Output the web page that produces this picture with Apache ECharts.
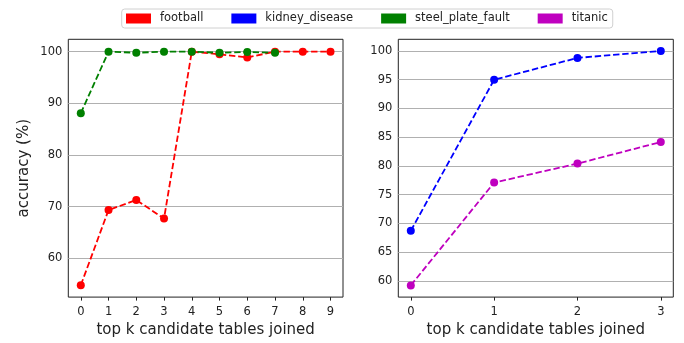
<!DOCTYPE html>
<html>
<head>
<meta charset="utf-8">
<script src="https://cdn.jsdelivr.net/npm/echarts@6/dist/echarts.min.js"></script>
<style>html,body{margin:0;padding:0;background:#fff}#c{width:684px;height:343px}</style>
</head>
<body>
<div id="c"></div>
<script>
// ---- data ----
const xTicksLeft = [0, 1, 2, 3, 4, 5, 6, 7, 8, 9];
const xTicksRight = [0, 1, 2, 3];
const yTicksLeft = [60, 70, 80, 90, 100];
const yTicksRight = [60, 65, 70, 75, 80, 85, 90, 95, 100];
const footballX = [0, 1, 2, 3, 4, 5, 6, 7, 8, 9];
const football = [54.8, 69.35, 71.3, 67.7, 100.0, 99.5, 98.9, 100.0, 100.0, 100.0];
const steelX = [0, 1, 2, 3, 4, 5, 6, 7];
const steel = [88.1, 100.0, 99.8, 100.0, 100.0, 99.8, 99.95, 99.8];
const kidneyX = [0, 1, 2, 3];
const kidney = [68.7, 95.0, 98.8, 100.0];
const titanicX = [0, 1, 2, 3];
const titanic = [59.2, 77.1, 80.4, 84.15];
const seriesNames = ['football', 'kidney_disease', 'steel_plate_fault', 'titanic'];
const xTitle = 'top k candidate tables joined';
const yTitle = 'accuracy (%)';

const FONT = 'DejaVu Sans';
const C = { football: '#ff0000', kidney_disease: '#0000ff', steel_plate_fault: '#008000', titanic: '#bf00bf' };

function pairs(xs, ys) { return xs.map((x, i) => [x, ys[i]]); }

const tickLabel = { fontFamily: FONT, fontSize: 11.5, color: '#222' };

function xAxis(gridIndex, min, max, ticks) {
  return {
    type: 'value', gridIndex, min, max,
    axisLine: { show: false },
    axisTick: { show: true, length: 3.5, customValues: ticks, lineStyle: { color: '#222', width: 1 } },
    axisLabel: Object.assign({ customValues: ticks, margin: 9 }, tickLabel),
    splitLine: { show: false },
    name: xTitle, nameLocation: 'middle', nameGap: 23,
    nameTextStyle: { fontFamily: FONT, fontSize: 15, color: '#222' }
  };
}
function yAxis(gridIndex, min, max, ticks, withName) {
  const a = {
    type: 'value', gridIndex, min, max,
    axisLine: { show: false },
    axisTick: { show: true, length: 3.5, customValues: ticks, lineStyle: { color: '#222', width: 1 } },
    axisLabel: Object.assign({ customValues: ticks, margin: 6 }, tickLabel),
    splitLine: { show: false }
  };
  if (withName) {
    a.name = yTitle; a.nameLocation = 'middle'; a.nameGap = 37;
    a.nameTextStyle = { fontFamily: FONT, fontSize: 15, color: '#222' };
  }
  return a;
}
function gridLines(ticks) {
  return {
    silent: true, symbol: 'none', z: 1,
    label: { show: false },
    lineStyle: { type: 'solid', color: '#b0b0b0', width: 1 },
    emphasis: { disabled: true },
    data: ticks.map(v => ({ yAxis: v }))
  };
}
function lineSeries(name, xs, ys, idx, ticks) {
  const s = {
    name, type: 'line', xAxisIndex: idx, yAxisIndex: idx,
    data: pairs(xs, ys),
    symbol: 'circle', symbolSize: 8, showSymbol: true,
    itemStyle: { color: C[name] },
    lineStyle: { color: C[name], width: 1.8, type: [6.4, 2.8] },
    animation: false, z: 3
  };
  if (ticks) s.markLine = gridLines(ticks);
  return s;
}

const chart = echarts.init(document.getElementById('c'), null, { renderer: 'canvas' });
chart.setOption({
  animation: false,
  legend: {
    data: seriesNames.map(n => ({ name: n, icon: 'rect', itemStyle: { color: C[n] } })),
    left: 121.7, top: 9,
    itemWidth: 25, itemHeight: 10, itemGap: 28,
    padding: [3.5, 5, 3.5, 4.3],
    borderColor: '#d0d0d0', borderWidth: 1, borderRadius: 3,
    textStyle: { fontFamily: FONT, fontSize: 11.5, color: '#222', padding: [0, 0, 0, 4] },
    selectedMode: false
  },
  grid: [
    { left: 68.3, top: 39.3, width: 274.7, height: 262.4, show: true, borderColor: '#222', borderWidth: 1, containLabel: false },
    { left: 398.3, top: 39.3, width: 275, height: 262.4, show: true, borderColor: '#222', borderWidth: 1, containLabel: false }
  ],
  xAxis: [
    xAxis(0, -0.45, 9.45, xTicksLeft),
    xAxis(1, -0.15, 3.15, xTicksRight)
  ],
  yAxis: [
    yAxis(0, 52.5, 102.4, yTicksLeft, true),
    yAxis(1, 57.16, 102.04, yTicksRight, false)
  ],
  series: [
    lineSeries('football', footballX, football, 0, yTicksLeft),
    lineSeries('steel_plate_fault', steelX, steel, 0, null),
    lineSeries('kidney_disease', kidneyX, kidney, 1, yTicksRight),
    lineSeries('titanic', titanicX, titanic, 1, null)
  ]
});
</script>
</body>
</html>
